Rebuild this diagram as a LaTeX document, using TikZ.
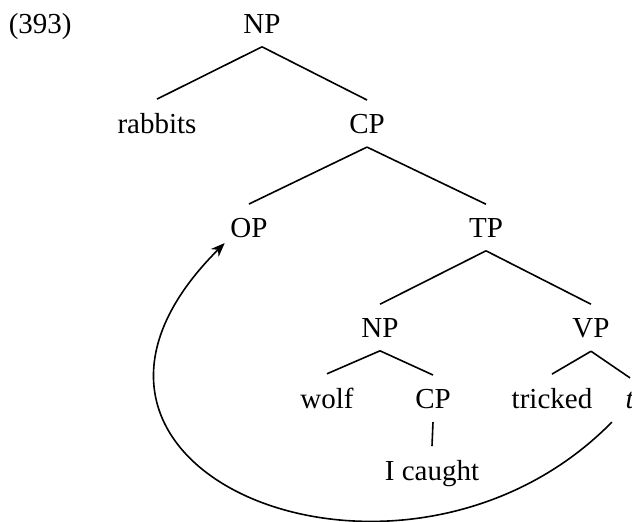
\documentclass[tikz,border=0pt]{standalone}
\usepackage{fontspec}
\setmainfont{Liberation Serif}
\usetikzlibrary{arrows.meta}

\begin{document}
\begin{tikzpicture}[x=0.5pt, y=-0.5pt, line width=0.8pt, every node/.style={anchor=base, inner sep=6.5pt, font=\fontsize{14.5}{17}\selectfont}]
	\useasboundingbox (0,0) rectangle (632,521);
	\node[anchor=base west, inner sep=0pt] (ex) at (8,33) {(393)};
	\node (np) at (262,33) {NP};
	\node (rabbits) at (157,133) {rabbits};
	\node (cp) at (367,133) {CP};
	\node (op) at (249,237) {OP};
	\node (tp) at (486,237) {TP};
	\node (nptwo) at (380,337) {NP};
	\node (vp) at (591,337) {VP};
	\node (wolf) at (327,408) {wolf};
	\node (cptwo) at (433,408) {CP};
	\node (tricked) at (552,408) {tricked};
	\node (trace) at (630,408) {\textit{t}};
	\node (caught) at (432,480) {I caught};
	\foreach \a/\b in {np/rabbits, np/cp, cp/op, cp/tp, tp/nptwo, tp/vp, nptwo/wolf, nptwo/cptwo, vp/tricked, vp/trace, cptwo/caught}
		\draw (\a.south) -- (\b.north);
	\draw[-{Stealth[length=7pt, width=5.5pt]}] (trace.south west) .. controls (403,635) and (-5,472) .. ([shift={(8,-8)}]op.south west);
\end{tikzpicture}
\end{document}
